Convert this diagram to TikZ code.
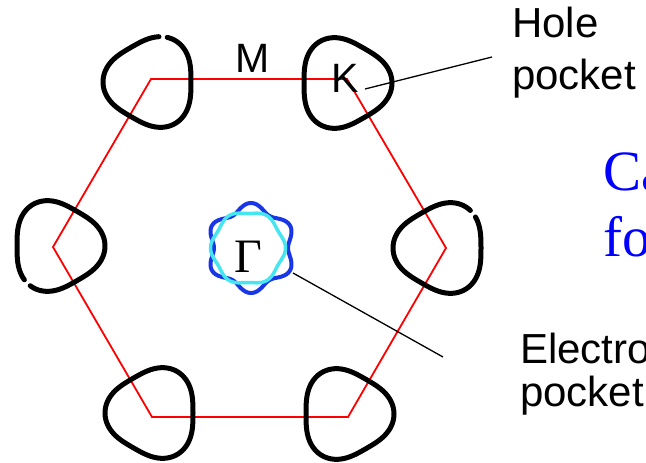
\documentclass[tikz,border=0pt]{standalone}
\usepackage{fontspec}
\setmainfont{Liberation Serif}
\newfontfamily\arialf{Liberation Sans}
\definecolor{starblue}{RGB}{25,55,230}
\definecolor{hexcyan}{RGB}{70,230,240}
\newcommand\fpocket[5]{% cx, cy, sign, start, end
  \draw[pocketline] plot[domain=#4:#5, samples=150, variable=\t]
    ({#1+(44#34*cos(3*\t))*cos(\t)},{#2+(44#34*cos(3*\t))*sin(\t)});}
\begin{document}
\begin{tikzpicture}[x=1pt,y=-1pt,
  pocketline/.style={line width=5pt, black, line cap=round, line join=round},
  bz/.style={red, line width=1.8pt, line join=miter},
  lead/.style={black, line width=1.3pt},
  lab/.style={font=\arialf\fontsize{42}{48}\selectfont, inner sep=0pt, anchor=base west},
  bluelab/.style={font=\fontsize{57}{60}\selectfont, text=blue, inner sep=0pt, anchor=base west},
]
\useasboundingbox (0,0) rectangle (646,463);
\begin{scope}
\clip (0,0) rectangle (646,463);
% Brillouin zone
\coordinate (v1) at (151,79);
\coordinate (v2) at (347,79);
\coordinate (v3) at (446,248);
\coordinate (v4) at (348,417);
\coordinate (v5) at (152,417);
\coordinate (v6) at (53,247);
\draw[bz] (v1) -- (v2) -- (v3) -- (v4) -- (v5) -- (v6) -- cycle;
% hole pockets
\fpocket{151}{82}{-}{290}{640}
\fpocket{344}{83}{+}{0}{360}
\fpocket{441}{248}{-}{-42}{308}
\fpocket{346}{414}{+}{0}{360}
\fpocket{153}{413}{-}{0}{360}
\fpocket{57}{246}{+}{134}{484}
% electron pocket
\draw[starblue, line width=4pt, line join=round] plot[domain=0:360, samples=241, variable=\t]
  ({251+(41+4*cos(6*\t+180))*cos(\t)},{248+(41+4*cos(6*\t+180))*sin(\t)});
\draw[hexcyan, line width=3.5pt, line join=round] plot[domain=0:360, samples=241, variable=\t]
  ({248+(36+1.5*cos(6*\t))*cos(\t)},{248+(36+1.5*cos(6*\t))*sin(\t)});
% labels
\node[font=\fontsize{48}{56}\selectfont, anchor=base, inner sep=0pt] (gam) at (248,272) {Γ};
\node[font=\arialf\fontsize{41}{48}\selectfont, anchor=base, inner sep=0pt] (m) at (253,72) {M};
\node[font=\arialf\fontsize{41}{48}\selectfont, anchor=base, inner sep=0pt] (k) at (345,92) {K};
\node[lab] (hole) at (512,37) {Hole};
\node[lab] (hpocket) at (512,89) {pocket};
\node[lab] (elec) at (520,363) {Electro};
\node[lab] (epocket) at (520,406) {pocket};
\node[bluelab] (ca) at (603,190) {Ca};
\node[bluelab] (fo) at (603,256) {fo};
% leader lines
\coordinate (hk) at (365,89);
\coordinate (hl) at (492,57);
\coordinate (ek) at (293,273);
\coordinate (el) at (443,357);
\draw[lead] (hk) -- (hl);
\draw[lead] (ek) -- (el);
\end{scope}
\end{tikzpicture}
\end{document}
